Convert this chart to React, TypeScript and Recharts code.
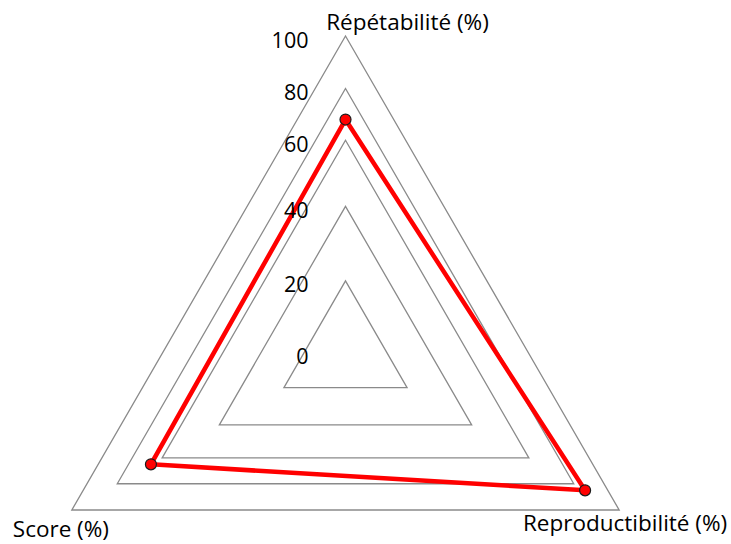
import { RadarChart, PolarGrid, PolarAngleAxis, PolarRadiusAxis, Radar } from 'recharts';

const categories = ['Répétabilité (%)', 'Reproductibilité (%)', 'Score (%)'];
const values = [68, 85, 65];
const radiusTicks = [0, 20, 40, 60, 80, 100];
// share of the outer radius reached by each tick (the rings are not evenly spaced)
const ringShare = [0, 0.225, 0.461, 0.67, 0.834, 1];

const data = categories.map((name, i) => ({ name, value: values[i] }));

// piecewise linear scale so the rings land where the original ones are
function ringScale(dom: number[] = [0, 100], rng: number[] = [0, 1]): any {
  let d = dom;
  let r = rng;
  const s: any = (v: number) => {
    const t = radiusTicks[0] + ((v - d[0]) / (d[1] - d[0])) * (radiusTicks[radiusTicks.length - 1] - radiusTicks[0]);
    let k = 0;
    while (k < radiusTicks.length - 2 && t > radiusTicks[k + 1]) k++;
    const f = ringShare[k] + ((t - radiusTicks[k]) / (radiusTicks[k + 1] - radiusTicks[k])) * (ringShare[k + 1] - ringShare[k]);
    return r[0] + f * (r[1] - r[0]);
  };
  s.domain = (x?: number[]) => (x === undefined ? d : ((d = [...x]), s));
  s.range = (x?: number[]) => (x === undefined ? r : ((r = [...x]), s));
  s.copy = () => ringScale(d, r);
  s.ticks = () => radiusTicks.slice();
  return s;
}

const font = '"Open Sans", Lato, sans-serif';
const labelShift = [
  { dx: 62, dy: -7 },
  { dx: -1, dy: 8 },
  { dx: -4, dy: 14 },
];

const AngleTick = (props: any) => {
  const { x, y, payload, index } = props;
  const s = labelShift[index ?? payload.index ?? 0] || { dx: 0, dy: 0 };
  return (
    <text x={x + s.dx} y={y + s.dy} textAnchor="middle" dominantBaseline="central" fill="#000" fontSize={22.5} fontFamily={font}>
      {payload.value}
    </text>
  );
};

const RadiusTick = (props: any) => {
  const { x, y, payload } = props;
  return (
    <text x={x - 37} y={y + 3} textAnchor="end" dominantBaseline="central" fill="#000" fontSize={21.5} fontFamily={font}>
      {payload.value}
    </text>
  );
};

export default function App() {
  return (
    <div>
      <style>{'body { margin: 0; }'}</style>
      <RadarChart
        width={731}
        height={544}
        data={data}
        cx={345.5}
        cy={352}
        outerRadius={316}
        margin={{ top: 0, right: 0, bottom: 0, left: 0 }}
      >
        <PolarGrid gridType="polygon" radialLines={false} stroke="#8a8a8a" strokeWidth={1.3} />
        <PolarAngleAxis dataKey="name" tick={<AngleTick />} tickLine={false} axisLine={false} />
        <PolarRadiusAxis
          angle={90}
          domain={[0, 100]}
          type="number"
          scale={ringScale()}
          tickCount={6}
          tick={<RadiusTick />}
          axisLine={false}
          tickLine={false}
        />
        <Radar
          dataKey="value"
          stroke="#ff0000"
          strokeWidth={4.5}
          fill="none"
          fillOpacity={0}
          dot={{ r: 5.5, fill: '#ff0000', fillOpacity: 1, stroke: '#1a1a1a', strokeWidth: 1.2 }}
          isAnimationActive={false}
        />
      </RadarChart>
    </div>
  );
}
